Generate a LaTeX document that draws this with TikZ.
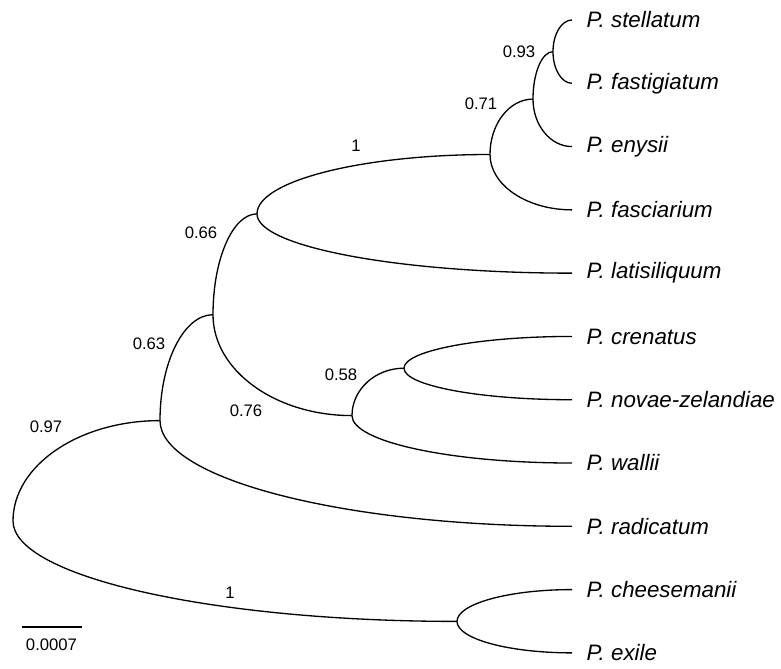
\documentclass[tikz,border=0pt]{standalone}
\usepackage{fontspec}
\setmainfont{Liberation Sans}
\usetikzlibrary{positioning}
\usetikzlibrary{calc}

\tikzset{
  clade/.style={to path={.. controls ($(\tikztostart)!0.552!(\tikztostart |- \tikztotarget)$)
      and ($(\tikztotarget)!0.552!(\tikztostart |- \tikztotarget)$) .. (\tikztotarget)}},
  taxon/.style={anchor=west, inner sep=1pt, font=\fontsize{12.7}{15}\selectfont\itshape},
  support/.style={inner sep=1pt, font=\fontsize{9.5}{11}\selectfont},
}

\begin{document}
\begin{tikzpicture}[x=0.02cm, y=-0.02cm, line width=0.75pt, node distance=1.266cm,
    every edge/.append style={clade}]
        \useasboundingbox (0,0) rectangle (781,669);

        % leaf tips
        \coordinate (stellatum) at (572,20);
        \coordinate[below=of stellatum] (fastigiatum);
        \coordinate[below=of fastigiatum] (enysii);
        \coordinate[below=of enysii] (fasciarium);
        \coordinate[below=of fasciarium] (latisiliquum);
        \coordinate[below=of latisiliquum] (crenatus);
        \coordinate[below=of crenatus] (novae);
        \coordinate[below=of novae] (wallii);
        \coordinate[below=of wallii] (radicatum);
        \coordinate[below=of radicatum] (cheesemanii);
        \coordinate[below=of cheesemanii] (exile);

        % internal nodes
        \coordinate (n93) at (553,51.65);
        \coordinate (n71) at (533,99.1);
        \coordinate (n1) at (490,154.5);
        \coordinate (n66) at (257,213.9);
        \coordinate (n58) at (404,368.2);
        \coordinate (n76) at (352,415.6);
        \coordinate (n63) at (213,314.7);
        \coordinate (n97) at (160,420.6);
        \coordinate (nce) at (457,621.4);
        \coordinate (root) at (13,521);

        \path (root) edge (n97)
              (root) edge (nce)
              (n97) edge (n63)
              (n97) edge (radicatum)
              (n63) edge (n66)
              (n63) edge (n76)
              (n66) edge (n1)
              (n66) edge (latisiliquum)
              (n1) edge (n71)
              (n1) edge (fasciarium)
              (n71) edge (n93)
              (n71) edge (enysii)
              (n93) edge (stellatum)
              (n93) edge (fastigiatum)
              (n76) edge (n58)
              (n76) edge (wallii)
              (n58) edge (crenatus)
              (n58) edge (novae)
              (nce) edge (cheesemanii)
              (nce) edge (exile);

        % taxon names
        \node[taxon, right=7pt of stellatum] (t-stellatum) {P. stellatum};
        \node[taxon, right=7pt of fastigiatum] (t-fastigiatum) {P. fastigiatum};
        \node[taxon, right=7pt of enysii] (t-enysii) {P. enysii};
        \node[taxon, right=7pt of fasciarium] (t-fasciarium) {P. fasciarium};
        \node[taxon, right=7pt of latisiliquum] (t-latisiliquum) {P. latisiliquum};
        \node[taxon, right=7pt of crenatus] (t-crenatus) {P. crenatus};
        \node[taxon, right=7pt of novae] (t-novae) {P. novae-zelandiae};
        \node[taxon, right=7pt of wallii] (t-wallii) {P. wallii};
        \node[taxon, right=7pt of radicatum] (t-radicatum) {P. radicatum};
        \node[taxon, right=7pt of cheesemanii] (t-cheesemanii) {P. cheesemanii};
        \node[taxon, right=7pt of exile] (t-exile) {P. exile};

        % support values
        \node[support] (s93) at (519,52) {0.93};
        \node[support] (s71) at (481,104) {0.71};
        \node[support] (s1a) at (356,146) {1};
        \node[support] (s66) at (201,233) {0.66};
        \node[support] (s63) at (149,344) {0.63};
        \node[support] (s76) at (246,411) {0.76};
        \node[support] (s58) at (341,375) {0.58};
        \node[support] (s97) at (46,427) {0.97};
        \node[support] (s1b) at (230,593) {1};

        % scale bar
        \coordinate (bar-l) at (22,627);
        \coordinate (bar-r) at (82,627);
        \draw (bar-l) -- (bar-r);
        \node[support] (bar-label) at (51.5,645) {0.0007};
    \end{tikzpicture}
\end{document}
